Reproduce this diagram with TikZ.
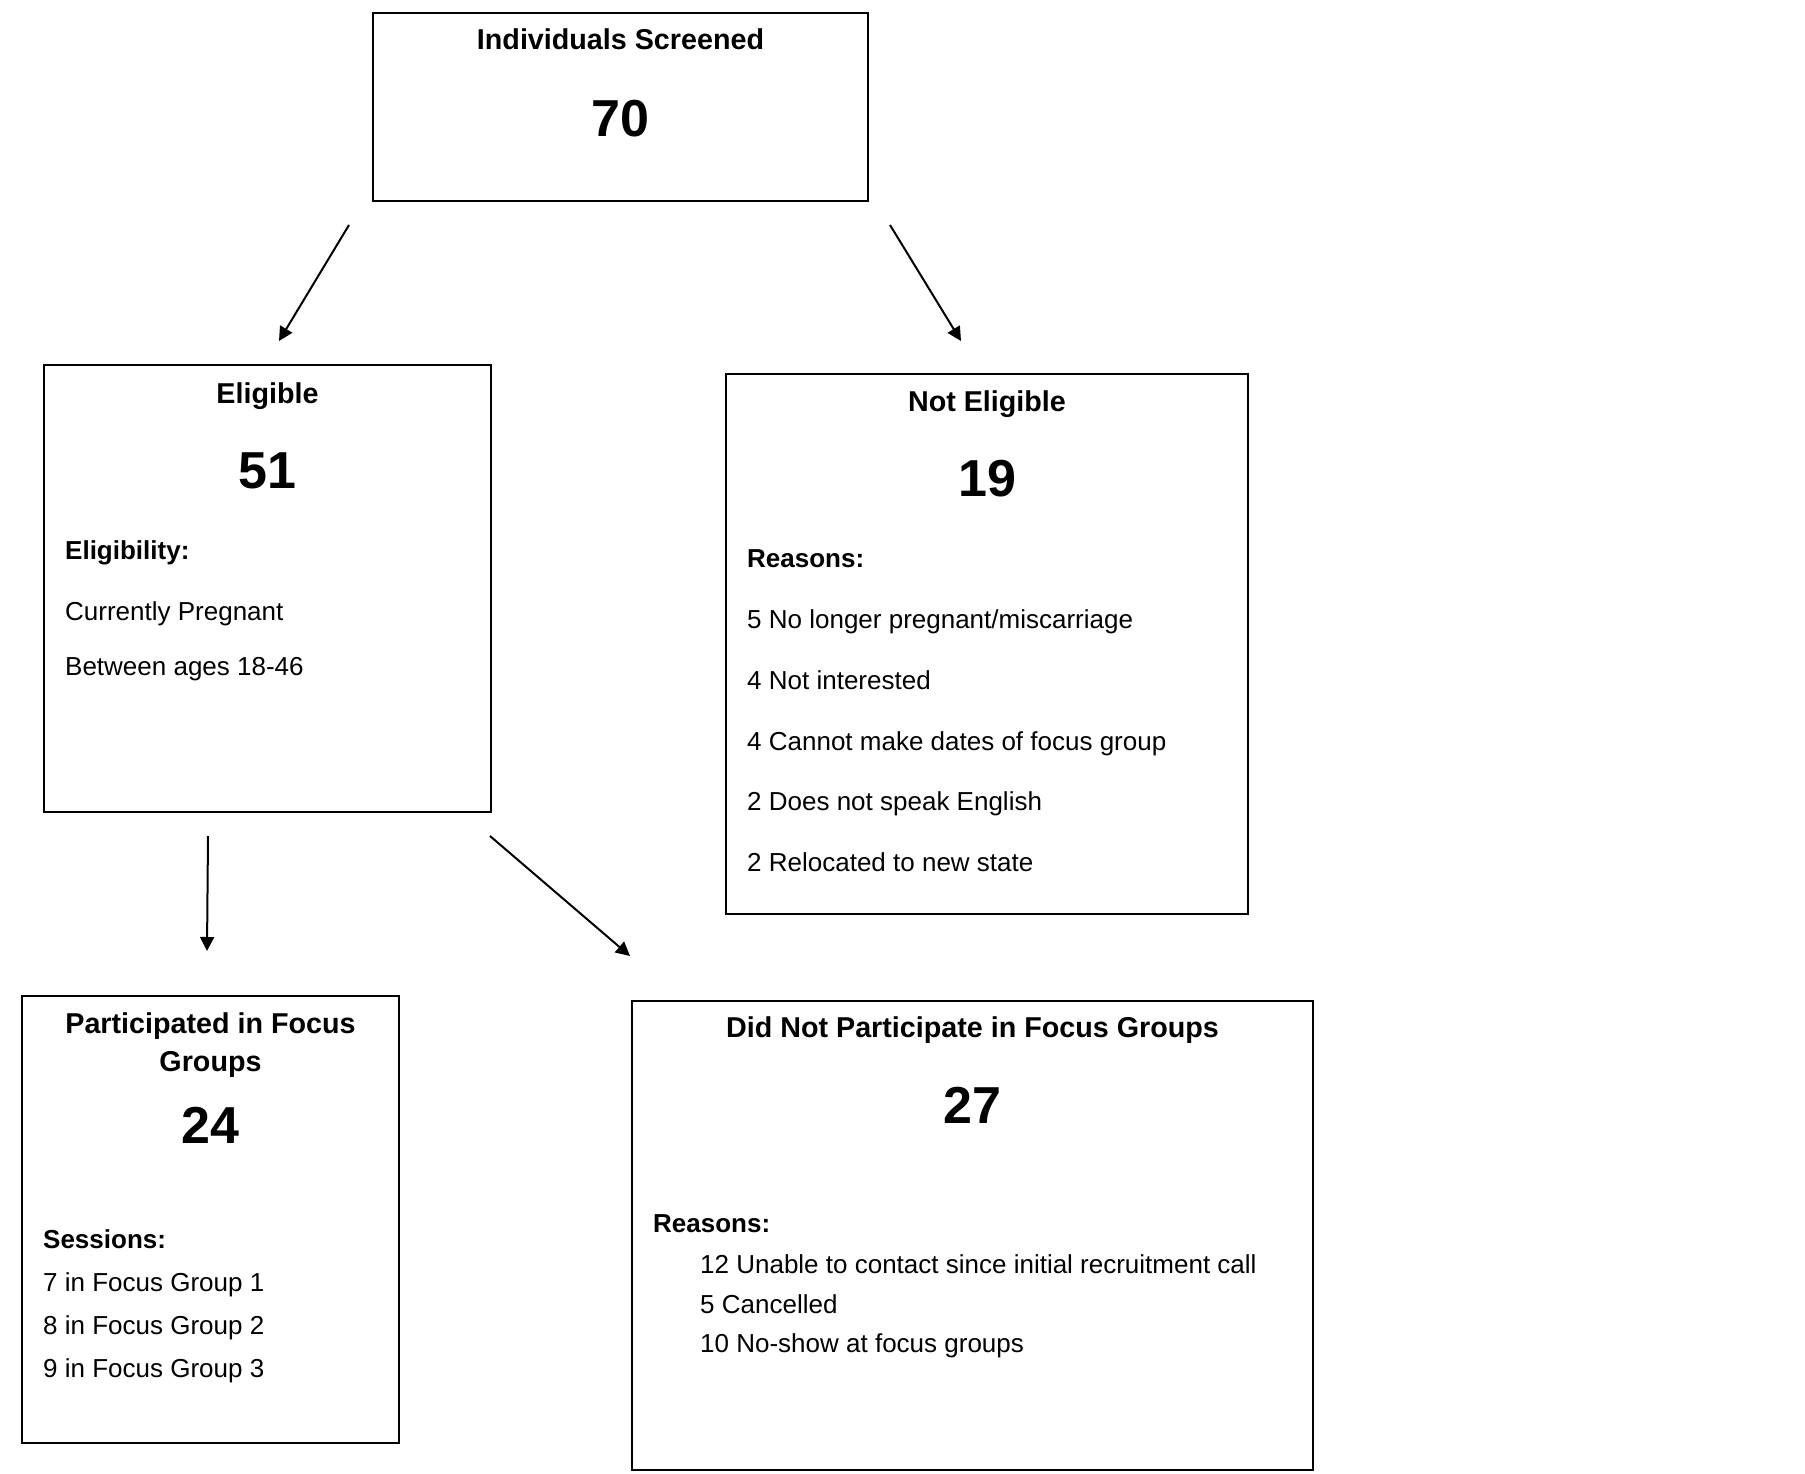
\documentclass[tikz,border=0pt]{standalone}
\usepackage{fontspec}
\setmainfont{Liberation Sans}
\usetikzlibrary{arrows.meta}
\tikzset{
  box/.style={draw=black, line width=2pt, inner sep=0pt},
  ttl/.style={font=\fontsize{28.7}{34}\selectfont\bfseries, anchor=base, inner sep=0pt},
  num/.style={font=\fontsize{52}{60}\selectfont\bfseries, anchor=base, inner sep=0pt},
  lbl/.style={font=\fontsize{26}{31}\selectfont\bfseries, anchor=base west, inner sep=0pt},
  txt/.style={font=\fontsize{26}{31}\selectfont, anchor=base west, inner sep=0pt},
  arr/.style={line width=2pt, -{Triangle[length=14pt,width=14pt]}}
}
\begin{document}
\begin{tikzpicture}[x=1pt,y=-1pt]
\useasboundingbox[fill=white] (0,0) rectangle (1805,1474);
% boxes
\node[box, minimum width=495pt, minimum height=188pt] (screened) at (620.5,107) {};
\node[box, minimum width=447pt, minimum height=447pt] (eligible) at (267.5,588.5) {};
\node[box, minimum width=522pt, minimum height=540pt] (noteligible) at (987,644) {};
\node[box, minimum width=377pt, minimum height=447pt] (particip) at (210.5,1219.5) {};
\node[box, minimum width=681pt, minimum height=469pt] (notpart) at (972.5,1235.5) {};
% screened
\node[ttl] (t1) at (620.5,50) {Individuals Screened};
\node[num] (n1) at (620.5,137) {70};
% eligible
\node[ttl] (t2) at (267.5,403) {Eligible};
\node[num] (n2) at (267.5,488) {51};
\node[lbl] (e0) at (65,559) {Eligibility:};
\node[txt] (e1) at (65,620) {Currently Pregnant};
\node[txt] (e2) at (65,675) {Between ages 18-46};
% not eligible
\node[ttl] (t3) at (987,411) {Not Eligible};
\node[num] (n3) at (987,496) {19};
\node[lbl] (r0) at (747,567) {Reasons:};
\node[txt] (r1) at (747,628) {5 No longer pregnant/miscarriage};
\node[txt] (r2) at (747,689) {4 Not interested};
\node[txt] (r3) at (747,750) {4 Cannot make dates of focus group};
\node[txt] (r4) at (747,810) {2 Does not speak English};
\node[txt] (r5) at (747,871) {2 Relocated to new state};
% participated
\node[ttl] (t4a) at (210.5,1033) {Participated in Focus};
\node[ttl] (t4b) at (210.5,1071) {Groups};
\node[num] (n4) at (210.5,1143) {24};
\node[lbl] (s0) at (43,1248) {Sessions:};
\node[txt] (s1) at (43,1291) {7 in Focus Group 1};
\node[txt] (s2) at (43,1334) {8 in Focus Group 2};
\node[txt] (s3) at (43,1377) {9 in Focus Group 3};
% did not participate
\node[ttl] (t5) at (972.5,1037) {Did Not Participate in Focus Groups};
\node[num] (n5) at (972.5,1123) {27};
\node[lbl] (d0) at (653,1232) {Reasons:};
\node[txt] (d1) at (700,1273) {12 Unable to contact since initial recruitment call};
\node[txt] (d2) at (700,1313) {5 Cancelled};
\node[txt] (d3) at (700,1352) {10 No-show at focus groups};
% arrows
\coordinate (a1s) at (349,225); \coordinate (a1e) at (279,341);
\coordinate (a2s) at (890,225); \coordinate (a2e) at (961,341);
\coordinate (a3s) at (208,836); \coordinate (a3e) at (207,951);
\coordinate (a4s) at (490,836); \coordinate (a4e) at (630,956);
\draw[arr] (a1s) -- (a1e);
\draw[arr] (a2s) -- (a2e);
\draw[arr] (a3s) -- (a3e);
\draw[arr] (a4s) -- (a4e);
\end{tikzpicture}
\end{document}
